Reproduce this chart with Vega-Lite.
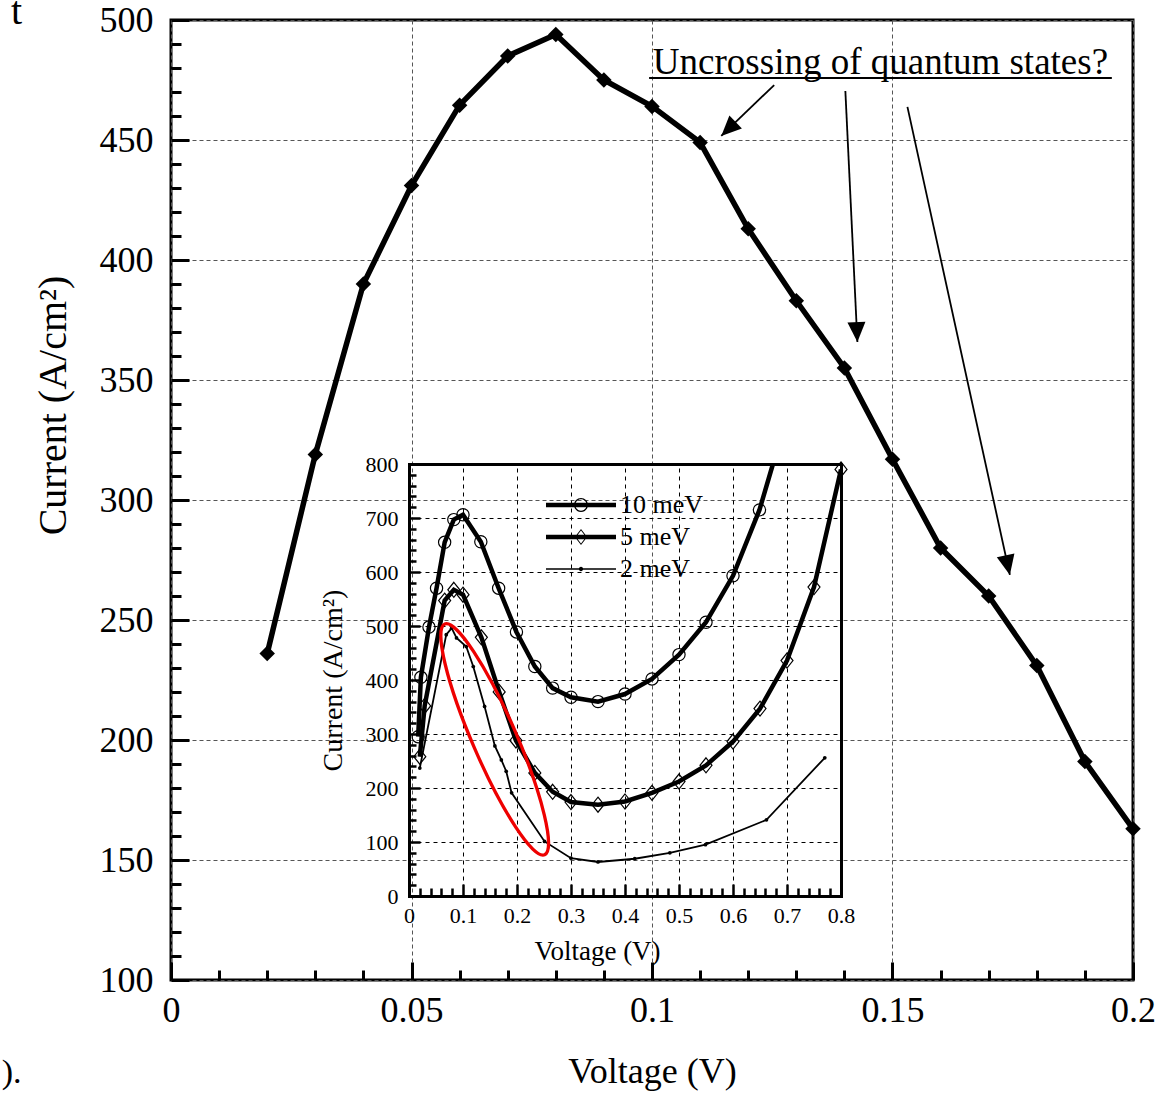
{
  "$schema": "https://vega.github.io/schema/vega-lite/v6.json",
  "width": 962,
  "height": 960,
  "autosize": {"type": "none"},
  "padding": {"left": 171, "top": 20, "right": 38, "bottom": 114},
  "background": "white",
  "config": {
    "view": {"stroke": "black", "strokeWidth": 3},
    "font": "Liberation Serif",
    "axis": {"labelFont": "Liberation Serif", "titleFont": "Liberation Serif", "labelColor": "black", "titleColor": "black", "titleFontWeight": "normal", "tickColor": "black", "domainColor": "black", "labelFlush": false, "labelOverlap": false},
    "legend": {"labelFont": "Liberation Serif", "titleFont": "Liberation Serif"},
    "text": {"font": "Liberation Serif", "color": "black"}
  },
  "datasets": {
    "main": [
      {"v": 0.02, "j": 236}, {"v": 0.03, "j": 319}, {"v": 0.04, "j": 390}, {"v": 0.05, "j": 431},
      {"v": 0.06, "j": 464.5}, {"v": 0.07, "j": 485}, {"v": 0.08, "j": 494}, {"v": 0.09, "j": 475},
      {"v": 0.1, "j": 464}, {"v": 0.11, "j": 449}, {"v": 0.12, "j": 413}, {"v": 0.13, "j": 383},
      {"v": 0.14, "j": 355}, {"v": 0.15, "j": 317}, {"v": 0.16, "j": 280}, {"v": 0.17, "j": 260},
      {"v": 0.18, "j": 231}, {"v": 0.19, "j": 191}, {"v": 0.2, "j": 163}
    ],
    "inset": [
      {"s": "10 meV", "x": 0.017, "y": 295}, {"s": "10 meV", "x": 0.022, "y": 405}, {"s": "10 meV", "x": 0.037, "y": 498},
      {"s": "10 meV", "x": 0.051, "y": 570}, {"s": "10 meV", "x": 0.066, "y": 655}, {"s": "10 meV", "x": 0.083, "y": 697},
      {"s": "10 meV", "x": 0.1, "y": 706}, {"s": "10 meV", "x": 0.133, "y": 656}, {"s": "10 meV", "x": 0.166, "y": 570},
      {"s": "10 meV", "x": 0.199, "y": 489}, {"s": "10 meV", "x": 0.233, "y": 425}, {"s": "10 meV", "x": 0.266, "y": 385},
      {"s": "10 meV", "x": 0.3, "y": 368}, {"s": "10 meV", "x": 0.35, "y": 360}, {"s": "10 meV", "x": 0.4, "y": 374},
      {"s": "10 meV", "x": 0.45, "y": 402}, {"s": "10 meV", "x": 0.5, "y": 447}, {"s": "10 meV", "x": 0.55, "y": 507},
      {"s": "10 meV", "x": 0.6, "y": 593}, {"s": "10 meV", "x": 0.649, "y": 715}, {"s": "10 meV", "x": 0.674, "y": 800},
      {"s": "5 meV", "x": 0.02, "y": 258}, {"s": "5 meV", "x": 0.029, "y": 352}, {"s": "5 meV", "x": 0.066, "y": 547},
      {"s": "5 meV", "x": 0.083, "y": 567}, {"s": "5 meV", "x": 0.1, "y": 558}, {"s": "5 meV", "x": 0.134, "y": 479},
      {"s": "5 meV", "x": 0.167, "y": 378}, {"s": "5 meV", "x": 0.198, "y": 288}, {"s": "5 meV", "x": 0.233, "y": 228},
      {"s": "5 meV", "x": 0.266, "y": 193}, {"s": "5 meV", "x": 0.3, "y": 174}, {"s": "5 meV", "x": 0.35, "y": 169},
      {"s": "5 meV", "x": 0.4, "y": 175}, {"s": "5 meV", "x": 0.45, "y": 191}, {"s": "5 meV", "x": 0.5, "y": 212},
      {"s": "5 meV", "x": 0.55, "y": 242}, {"s": "5 meV", "x": 0.6, "y": 286}, {"s": "5 meV", "x": 0.65, "y": 347},
      {"s": "5 meV", "x": 0.7, "y": 436}, {"s": "5 meV", "x": 0.75, "y": 572}, {"s": "5 meV", "x": 0.8, "y": 790},
      {"s": "2 meV", "x": 0.02, "y": 237}, {"s": "2 meV", "x": 0.069, "y": 484}, {"s": "2 meV", "x": 0.079, "y": 496},
      {"s": "2 meV", "x": 0.088, "y": 478}, {"s": "2 meV", "x": 0.106, "y": 462}, {"s": "2 meV", "x": 0.119, "y": 425},
      {"s": "2 meV", "x": 0.14, "y": 351}, {"s": "2 meV", "x": 0.159, "y": 278}, {"s": "2 meV", "x": 0.171, "y": 252},
      {"s": "2 meV", "x": 0.18, "y": 231}, {"s": "2 meV", "x": 0.19, "y": 191}, {"s": "2 meV", "x": 0.251, "y": 101},
      {"s": "2 meV", "x": 0.3, "y": 70}, {"s": "2 meV", "x": 0.35, "y": 63}, {"s": "2 meV", "x": 0.418, "y": 69},
      {"s": "2 meV", "x": 0.483, "y": 80}, {"s": "2 meV", "x": 0.549, "y": 95}, {"s": "2 meV", "x": 0.662, "y": 141},
      {"s": "2 meV", "x": 0.77, "y": 256}
    ],
    "ellipse": [{"x": 0.1587, "y": 290}],
    "arrows": [
      {"id": 1, "v": 0.1254, "j": 472.9, "v2": 0.1144, "j2": 451.7},
      {"id": 2, "v": 0.1402, "j": 470.4, "v2": 0.1427, "j2": 365.8},
      {"id": 3, "v": 0.1531, "j": 463.8, "v2": 0.1744, "j2": 268.8}
    ],
    "notes": [{"v": 0.1475, "j": 477.5, "t": "Uncrossing of quantum states?"}],
    "underline": [{"v": 0.0994, "v2": 0.1956, "j": 475.8}],
    "frag": [{"k": "a", "v": -0.0321, "j": 498.3, "t": "t"}, {"k": "b", "v": -0.0352, "j": 57.1, "t": ")."}]
  },
  "layer": [
    {
      "layer": [
        {
          "data": {"name": "main"},
          "mark": {"type": "line", "color": "black", "strokeWidth": 5.5},
          "encoding": {
            "x": {"field": "v", "type": "quantitative", "scale": {"domain": [0, 0.2], "nice": false, "zero": false},
              "axis": {
                "orient": "bottom",
                "values": [0,0.01,0.02,0.03,0.04,0.05,0.06,0.07,0.08,0.09,0.1,0.11,0.12,0.13,0.14,0.15,0.16,0.17,0.18,0.19,0.2],
                "tickCount": 200,
                "format": "~g",
                "labelExpr": "round(datum.value*100) % 5 === 0 ? datum.label : ''",
                "tickSize": {"condition": {"test": "round(datum.value*100) % 5 === 0", "value": -18}, "value": -10},
                "tickWidth": 3,
                "domain": false,
                "grid": true, "gridColor": "#555", "gridDash": [4, 3], "gridWidth": 1,
                "gridOpacity": {"condition": {"test": "round(datum.value*100) % 5 === 0", "value": 1}, "value": 0},
                "labelFontSize": 36, "labelPadding": 31,
                "title": "Voltage (V)", "titleFontSize": 36, "titlePadding": 18
              }},
            "y": {"field": "j", "type": "quantitative", "scale": {"domain": [100, 500], "nice": false, "zero": false},
              "axis": {
                "orient": "left",
                "values": [100,110,120,130,140,150,160,170,180,190,200,210,220,230,240,250,260,270,280,290,300,310,320,330,340,350,360,370,380,390,400,410,420,430,440,450,460,470,480,490,500],
                "tickCount": 200,
                "labelExpr": "datum.value % 50 === 0 ? datum.label : ''",
                "tickSize": {"condition": {"test": "datum.value % 50 === 0", "value": -18}, "value": -10},
                "tickWidth": 3,
                "domain": false,
                "grid": true, "gridColor": "#555", "gridDash": [4, 3], "gridWidth": 1,
                "gridOpacity": {"condition": {"test": "datum.value % 50 === 0", "value": 1}, "value": 0},
                "labelFontSize": 36, "labelPadding": 36,
                "title": "Current (A/cm²)", "titleFontSize": 40, "titlePadding": 26, "titleY": 385
              }}
          }
        },
        {
          "data": {"name": "main"},
          "mark": {"type": "point", "shape": "diamond", "filled": true, "color": "black", "size": 240, "opacity": 1},
          "encoding": {
            "x": {"field": "v", "type": "quantitative"},
            "y": {"field": "j", "type": "quantitative"}
          }
        },
        {
          "data": {"name": "notes"},
          "mark": {"type": "text", "font": "Liberation Serif", "fontSize": 37, "align": "center", "baseline": "alphabetic", "color": "black"},
          "encoding": {
            "x": {"field": "v", "type": "quantitative"},
            "y": {"field": "j", "type": "quantitative"},
            "text": {"field": "t"}
          }
        },
        {
          "data": {"name": "underline"},
          "mark": {"type": "rule", "color": "black", "strokeWidth": 2},
          "encoding": {
            "x": {"field": "v", "type": "quantitative"},
            "x2": {"field": "v2"},
            "y": {"field": "j", "type": "quantitative"}
          }
        },
        {
          "data": {"name": "arrows"},
          "mark": {"type": "rule", "color": "black", "strokeWidth": 1.8},
          "encoding": {
            "x": {"field": "v", "type": "quantitative"},
            "y": {"field": "j", "type": "quantitative"},
            "x2": {"field": "v2"},
            "y2": {"field": "j2"}
          }
        },
        {
          "data": {"name": "arrows"},
          "transform": [{"filter": "datum.id === 1"}],
          "mark": {"type": "point", "shape": "M0,0L-1,-0.45L-1,0.45Z", "filled": true, "color": "black", "opacity": 1, "size": 1600, "angle": 136},
          "encoding": {
            "x": {"field": "v2", "type": "quantitative"},
            "y": {"field": "j2", "type": "quantitative"}
          }
        },
        {
          "data": {"name": "arrows"},
          "transform": [{"filter": "datum.id === 2"}],
          "mark": {"type": "point", "shape": "M0,0L-1,-0.45L-1,0.45Z", "filled": true, "color": "black", "opacity": 1, "size": 1600, "angle": 87.3},
          "encoding": {
            "x": {"field": "v2", "type": "quantitative"},
            "y": {"field": "j2", "type": "quantitative"}
          }
        },
        {
          "data": {"name": "arrows"},
          "transform": [{"filter": "datum.id === 3"}],
          "mark": {"type": "point", "shape": "M0,0L-1,-0.45L-1,0.45Z", "filled": true, "color": "black", "opacity": 1, "size": 1600, "angle": 77.7},
          "encoding": {
            "x": {"field": "v2", "type": "quantitative"},
            "y": {"field": "j2", "type": "quantitative"}
          }
        },
        {
          "data": {"name": "frag"},
          "transform": [{"filter": "datum.k === 'a'"}],
          "mark": {"type": "text", "font": "Liberation Serif", "fontSize": 40, "align": "center", "baseline": "alphabetic", "color": "black"},
          "encoding": {
            "x": {"field": "v", "type": "quantitative"},
            "y": {"field": "j", "type": "quantitative"},
            "text": {"field": "t"}
          }
        },
        {
          "data": {"name": "frag"},
          "transform": [{"filter": "datum.k === 'b'"}],
          "mark": {"type": "text", "font": "Liberation Serif", "fontSize": 34, "align": "left", "baseline": "alphabetic", "color": "black"},
          "encoding": {
            "x": {"field": "v", "type": "quantitative"},
            "y": {"field": "j", "type": "quantitative"},
            "text": {"field": "t"}
          }
        }
      ]
    },
    {
      "layer": [
        {
          "data": {"name": "inset"},
          "transform": [{"filter": "datum.s === '10 meV'"}],
          "mark": {"type": "line", "strokeWidth": 4.5},
          "encoding": {
            "x": {"field": "x", "type": "quantitative", "scale": {"domain": [0, 0.8], "range": [238, 670], "nice": false, "zero": false},
              "axis": {
                "orient": "bottom", "offset": -84,
                "values": [0,0.02,0.04,0.06,0.08,0.1,0.12,0.14,0.16,0.18,0.2,0.22,0.24,0.26,0.28,0.3,0.32,0.34,0.36,0.38,0.4,0.42,0.44,0.46,0.48,0.5,0.52,0.54,0.56,0.58,0.6,0.62,0.64,0.66,0.68,0.7,0.72,0.74,0.76,0.78,0.8],
                "tickCount": 200,
                "format": "~g",
                "labelExpr": "round(datum.value*100) % 10 === 0 ? datum.label : ''",
                "tickSize": {"condition": {"test": "round(datum.value*100) % 10 === 0", "value": -12}, "value": -8},
                "tickWidth": 2.5,
                "domain": true, "domainWidth": 3, "domainCap": "square",
                "grid": false,
                "labelFontSize": 22, "labelPadding": 21,
                "title": "Voltage (V)", "titleFontSize": 27, "titlePadding": 8, "titleX": 426
              }},
            "y": {"field": "y", "type": "quantitative", "scale": {"domain": [0, 800], "range": [876, 444], "nice": false, "zero": false},
              "axis": {
                "orient": "left", "offset": -238,
                "values": [0,20,40,60,80,100,120,140,160,180,200,220,240,260,280,300,320,340,360,380,400,420,440,460,480,500,520,540,560,580,600,620,640,660,680,700,720,740,760,780,800],
                "tickCount": 200,
                "labelExpr": "datum.value % 100 === 0 ? datum.label : ''",
                "tickSize": {"condition": {"test": "datum.value % 100 === 0", "value": -11}, "value": -7},
                "tickWidth": 2.5,
                "domain": true, "domainWidth": 3, "domainCap": "square",
                "grid": false,
                "labelFontSize": 22, "labelPadding": 22,
                "title": "Current (A/cm²)", "titleFontSize": 28, "titlePadding": 18
              }},
            "color": {"field": "s", "type": "nominal",
              "scale": {"domain": ["10 meV", "5 meV", "2 meV"], "range": ["black", "black", "black"]},
              "legend": {
                "orient": "none", "legendX": 397, "legendY": 472, "title": null,
                "symbolSize": 400, "labelFontSize": 26, "labelFont": "Liberation Serif", "labelColor": "black",
                "labelOffset": 26, "rowPadding": 6, "padding": 0,
                "encode": {
                  "labels": {"update": {"font": {"value": "Liberation Serif"}}},
                  "symbols": {"update": {
                  "shape": {"signal": "datum.value === '10 meV' ? 'M-3.5,-0.22L3.5,-0.22L3.5,0.22L-3.5,0.22Z M0.7,0A0.7,0.7,0,1,1,-0.7,0A0.7,0.7,0,1,1,0.7,0Z M0.57,0A0.57,0.57,0,1,0,-0.57,0A0.57,0.57,0,1,0,0.57,0Z' : datum.value === '5 meV' ? 'M-3.5,-0.22L3.5,-0.22L3.5,0.22L-3.5,0.22Z M0,-0.8L0.62,0L0,0.8L-0.62,0Z M0,-0.66L-0.5,0L0,0.66L0.5,0Z' : 'M-3.5,-0.08L3.5,-0.08L3.5,0.08L-3.5,0.08Z M0.22,0A0.22,0.22,0,1,1,-0.22,0A0.22,0.22,0,1,1,0.22,0Z'"},
                  "fill": {"value": "black"},
                  "fillOpacity": {"value": 1},
                  "stroke": {"value": "transparent"},
                  "strokeWidth": {"value": 0},
                  "opacity": {"value": 1}
                }}}
              }}
          }
        },
        {
          "data": {"name": "inset"},
          "transform": [{"filter": "datum.s === '5 meV'"}],
          "mark": {"type": "line", "strokeWidth": 4.5, "color": "black"},
          "encoding": {
            "x": {"field": "x", "type": "quantitative",
              "axis": {"orient": "bottom", "offset": -84, "values": [0.1,0.2,0.3,0.4,0.5,0.6,0.7], "tickCount": 200, "tickSize": -432, "tickDash": [4, 4], "tickWidth": 1, "tickColor": "black", "labels": false, "domain": false, "grid": false, "title": null}},
            "y": {"field": "y", "type": "quantitative",
              "axis": {"orient": "left", "offset": -238, "values": [100,200,300,400,500,600,700], "tickCount": 200, "tickSize": -432, "tickDash": [4, 4], "tickWidth": 1, "tickColor": "black", "labels": false, "domain": false, "grid": false, "title": null}}
          }
        },
        {
          "data": {"name": "inset"},
          "transform": [{"filter": "datum.s === '2 meV'"}],
          "mark": {"type": "line", "strokeWidth": 1.8, "color": "black"},
          "encoding": {
            "x": {"field": "x", "type": "quantitative",
              "axis": {"orient": "top", "offset": -444, "ticks": false, "labels": false, "domain": true, "domainWidth": 3, "domainCap": "square", "grid": false, "title": null}},
            "y": {"field": "y", "type": "quantitative",
              "axis": {"orient": "right", "offset": -292, "ticks": false, "labels": false, "domain": true, "domainWidth": 3, "domainCap": "square", "grid": false, "title": null}}
          }
        },
        {
          "data": {"name": "inset"},
          "transform": [{"filter": "datum.s === '10 meV' && datum.y < 800"}],
          "mark": {"type": "point", "shape": "circle", "filled": false, "stroke": "black", "strokeWidth": 1.2, "size": 150, "opacity": 1},
          "encoding": {
            "x": {"field": "x", "type": "quantitative", "axis": null},
            "y": {"field": "y", "type": "quantitative", "axis": null}
          }
        },
        {
          "data": {"name": "inset"},
          "transform": [{"filter": "datum.s === '5 meV'"}],
          "mark": {"type": "point", "shape": "M0,-1L0.8,0L0,1L-0.8,0Z", "filled": false, "stroke": "black", "strokeWidth": 1.2, "size": 225, "opacity": 1},
          "encoding": {
            "x": {"field": "x", "type": "quantitative", "axis": null},
            "y": {"field": "y", "type": "quantitative", "axis": null}
          }
        },
        {
          "data": {"name": "inset"},
          "transform": [{"filter": "datum.s === '2 meV'"}],
          "mark": {"type": "point", "shape": "circle", "filled": true, "color": "black", "size": 14, "opacity": 1},
          "encoding": {
            "x": {"field": "x", "type": "quantitative", "axis": null},
            "y": {"field": "y", "type": "quantitative", "axis": null}
          }
        },
        {
          "data": {"name": "ellipse"},
          "mark": {"type": "point", "shape": "M-1,0A1,0.175,0,0,1,1,0A1,0.175,0,0,1,-1,0Z", "angle": 66.6, "filled": false, "stroke": "#ee0000", "strokeWidth": 3.3, "size": 63200, "opacity": 1},
          "encoding": {
            "x": {"field": "x", "type": "quantitative", "axis": null},
            "y": {"field": "y", "type": "quantitative", "axis": null}
          }
        }
      ],
      "resolve": {"axis": {"x": "independent", "y": "independent"}}
    }
  ],
  "resolve": {"scale": {"x": "independent", "y": "independent"}}
}
